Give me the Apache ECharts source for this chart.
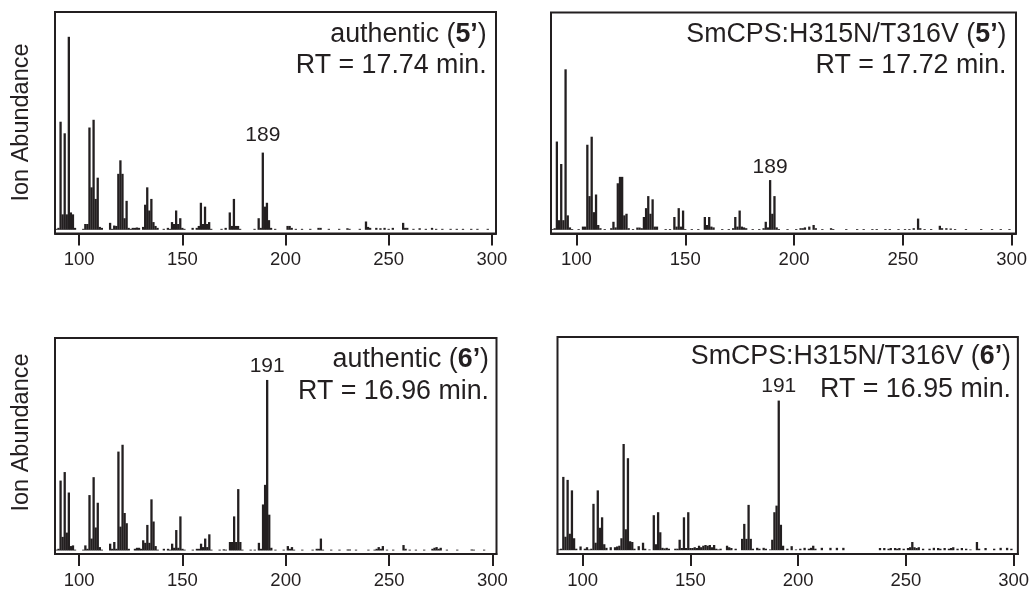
<!DOCTYPE html>
<html><head><meta charset="utf-8">
<script src="https://cdn.jsdelivr.net/npm/echarts@6/dist/echarts.min.js"></script>
<style>html,body{margin:0;padding:0;background:#fff}#c{width:1032px;height:590px}</style>
</head><body><div id="c"></div>
<script>
// ---- data ----
const xTicks = [100, 150, 200, 250, 300];
const sampleNames = ['authentic', 'SmCPS:H315N/T316V', 'authentic', 'SmCPS:H315N/T316V'];
const compoundIds = ['5’', '5’', '6’', '6’'];
const retentionTimes = ['17.74', '17.72', '16.96', '16.95'];
const labeledPeaks = [189, 189, 191, 191];
const yAxisTitle = 'Ion Abundance';

// [m/z, relative abundance (%)]
const spectrumA = [[89,0.5],[90,1],[91,56],[92,8],[93,50],[94,8],[95,100],[96,9],[97,8],[98,1],[102,0.5],[103,3],[104,3],
[105,53],[106,22],[107,57],[108,16],[109,27],[110,1.5],[111,1],[115,3.6],[116,0.5],[117,2.2],[118,2],[119,29],[120,36],[121,29],
[122,6],[123,15],[124,1],[125,0.5],[126,1],[127,1],[128,1.2],[129,1],[131,1.5],[132,13],[133,22],[134,10],[135,16],[136,4],[137,2],
[138,1],[141,0.5],[143,1],[144,0.5],[145,4],[146,3],[147,10],[148,3],[149,6],[150,1],[151,0.5],[155,1],[157,1],[158,2],[159,14],
[160,3],[161,12],[162,3],[163,4],[164,0.5],[169,0.5],[171,1],[173,9],[174,2],[175,16],[176,2],[177,2],[178,0.5],[185,0.5],[187,6],
[188,1],[189,40],[190,12],[191,14],[192,5],[193,1],[195,0.5],[201,2],[202,2],[203,1],[205,0.5],[208,0.5],[212,0.5],[216,1],[217,1],
[221,0.5],[226,0.5],[230,0.8],[231,0.5],[236,0.5],[239,4.3],[240,1.5],[241,1],[244,1],[246,0.8],[248,1],[250,0.5],[252,1],[257,3.6],
[258,1],[259,1],[262,0.5],[265,0.8],[268,0.5],[271,1],[273,0.5],[276,0.5],[280,0.5],[283,0.5],[286,0.5],[290,0.5],[293,0.5],[298,0.5]];

const spectrumB = [[89,0.5],[90,1],[91,55],[92,6],[93,41],[94,6],[95,100],[96,9],[97,1.5],[98,0.5],[101,0.5],[103,2],[104,2],
[105,53],[106,21],[107,58],[108,11],[109,22],[110,3],[111,1],[113,0.5],[116,1],[117,5],[118,1.5],[119,29],[120,33],[121,33],[122,9],
[123,10],[124,1],[126,0.5],[128,1.4],[129,1.4],[130,1],[131,8],[132,13.5],[133,21],[134,10],[135,19],[136,2],[137,2],[141,0.5],
[143,0.5],[145,8],[146,2],[147,13.5],[148,2],[149,12],[150,0.5],[153,0.5],[156,0.5],[159,8],[160,3],[161,8],[162,2],[163,1.5],
[167,0.5],[170,0.5],[172,1],[173,8],[174,2],[175,12],[176,2],[177,1.5],[178,1],[181,0.5],[184,0.5],[186,1],[187,5],[188,1.5],
[189,31],[190,10],[191,21],[192,1.5],[193,0.5],[197,0.5],[201,0.5],[203,1],[204,1],[205,1.5],[207,2],[209,3],[210,1],[213,0.5],
[217,1],[218,0.5],[224,0.5],[229,0.5],[232,0.5],[236,0.5],[238,0.5],[242,0.5],[244,0.5],[248,0.5],[251,0.5],[253,0.5],[255,1],
[257,7],[258,1],[260,0.5],[263,0.5],[267,2.5],[268,1],[270,1],[272,0.8],[274,0.5],[279,0.5],[286,0.5],[291,0.5],[295,0.5],[299,0.5]];

const spectrumC = [[89,0.5],[90,1],[91,41],[92,8],[93,46],[94,10.5],[95,34],[96,2.6],[97,3],[98,0.5],[102,0.5],[103,3],[104,1],
[105,32.5],[106,7],[107,43],[108,13.5],[109,28],[110,2],[111,0.5],[115,4],[116,1],[117,5],[118,1],[119,58],[120,14],[121,62],
[122,22],[123,16],[124,1],[127,1],[128,1.6],[129,1.6],[130,1],[131,6],[132,4.5],[133,15],[134,4.5],[135,30],[136,17],[137,2.6],
[138,0.5],[141,1],[143,1],[144,0.5],[145,4],[146,1.6],[147,12],[148,1.6],[149,20],[150,1],[151,0.5],[155,0.5],[157,1],[158,1],
[159,4],[160,2],[161,7],[162,2],[163,9.5],[164,0.5],[168,0.5],[170,0.7],[171,0.5],[173,5],[174,5],[175,20],[176,5],[177,36],[178,5],
[179,0.5],[183,0.5],[185,0.5],[187,4.5],[188,1],[189,27],[190,38.5],[191,100],[192,21],[193,1.6],[195,0.5],[199,0.5],[201,2.6],
[202,1],[203,2],[204,0.5],[208,0.5],[213,0.5],[215,1],[216,1],[217,7],[218,0.5],[222,0.5],[226,0.5],[230,0.6],[231,0.6],[234,0.5],
[240,0.5],[243,0.5],[244,1],[245,2],[246,1],[247,2.6],[249,0.5],[252,0.5],[257,3.2],[258,1],[260,0.5],[263,0.5],[267,0.5],[271,1],
[272,1.6],[273,2],[274,1],[275,1.6],[278,0.5],[283,0.5],[290,0.6],[291,0.5],[296,0.5]];

const spectrumD = [[89,0.5],[90,1],[91,49],[92,9],[93,47],[94,11],[95,40],[96,8],[97,1],[99,2.5],[101,1],[102,2],[103,0.5],[104,1],
[105,31],[106,5],[107,40],[108,15],[109,22],[110,4],[111,1.6],[113,2],[115,2],[116,2.5],[117,3],[118,8],[119,71],[120,14],[121,61.5],
[122,6],[123,5.5],[124,1],[126,2.7],[128,5],[129,1],[131,0.5],[133,23.4],[134,4],[135,25.4],[136,12],[137,1.6],[138,1.2],[139,1.6],
[140,1],[143,1],[144,1],[145,7],[146,1.5],[147,22],[148,1.5],[149,25.4],[150,1.5],[151,1.5],[152,2],[153,1.5],[154,3],[155,2],
[156,3],[157,3.5],[158,3],[159,3.5],[160,2],[161,3.5],[162,1],[163,0.5],[164,1],[167,3],[168,2],[169,1.5],[171,1],[174,7.6],
[175,17.6],[176,7.6],[177,30.3],[178,7.6],[179,1],[181,1.6],[182,1],[184,1.6],[185,1],[187,0.5],[188,7],[189,25.4],[190,29.8],
[191,100],[192,17],[193,3],[195,1],[197,2.7],[199,0.5],[201,1],[203,1.6],[205,1],[206,1.6],[207,3],[208,1],[211,1.6],[215,1.6],
[218,1.6],[221,1.6],[238,1.5],[240,1.5],[242,1],[243,1.5],[245,1.5],[246,1],[247,1.5],[249,1],[251,1.5],[252,2],[253,5.5],[254,2],
[255,1.5],[256,2],[258,1],[261,1],[263,1.6],[265,1.5],[266,1],[268,1.5],[270,1],[271,1.5],[272,2],[274,1],[276,1.5],[278,1],
[280,0.5],[283,5.5],[284,1],[287,1.5],[291,1],[294,1.6],[297,1.6],[299,1]];

const spectra = [spectrumA, spectrumB, spectrumC, spectrumD];

// ---- layout / style ----
const FONT = "'Liberation Sans', Arial, Helvetica, sans-serif";
const INK = '#231f20';
const panels = [
  {left: 55,    top: 12,   width: 441,   height: 221.5, yMin: -1.92, yMax: 112.85, labelDist: 7, titleRight: 486.7, t1: 35,    t2: 65.7},
  {left: 551,   top: 12.5, width: 465,   height: 221,   yMin: -2.3,  yMax: 135.4,  labelDist: 2, titleRight: 1006.5, t1: 35,   t2: 65.7},
  {left: 55,    top: 338,  width: 441.5, height: 216.5, yMin: -2.05, yMax: 124.6,  labelDist: 3, titleRight: 489,   t1: 360,   t2: 391.7},
  {left: 557.5, top: 337,  width: 461.5, height: 217.5, yMin: -2.53, yMax: 142.5,  labelDist: 4, titleRight: 1011,  t1: 356.7, t2: 390}
];

const grid = [], xAxis = [], yAxis = [], series = [], graphic = [];
panels.forEach((p, i) => {
  grid.push({left: p.left, top: p.top, width: p.width, height: p.height, show: true,
    borderColor: INK, borderWidth: 2, backgroundColor: 'transparent'});
  xAxis.push({type: 'value', gridIndex: i, min: 88.3, max: 302, splitLine: {show: false},
    axisLine: {show: true, onZero: false, lineStyle: {color: INK, width: 2}},
    axisTick: {show: true, customValues: xTicks, length: 12, inside: false, lineStyle: {color: INK, width: 2}},
    axisLabel: {show: true, customValues: xTicks, fontSize: 18.5, margin: 17, color: INK, fontFamily: FONT, hideOverlap: false}});
  yAxis.push({type: 'value', gridIndex: i, min: p.yMin, max: p.yMax, show: false, splitLine: {show: false}});
  const peak = labeledPeaks[i];
  series.push({type: 'bar', xAxisIndex: i, yAxisIndex: i, barWidth: 2.3, silent: true, animation: false,
    itemStyle: {color: INK},
    data: spectra[i].map(([m, v]) => m === peak ? {value: [m, v], label: {show: true, position: 'top', distance: p.labelDist,
      formatter: String(m), fontSize: 21, color: INK, fontFamily: FONT}} : [m, v])});
  graphic.push({type: 'text', x: p.titleRight, y: p.t1, style: {
    text: '{n|' + sampleNames[i] + ' (}{b|' + compoundIds[i] + '}{n|)}', align: 'right', verticalAlign: 'middle',
    rich: {n: {fontSize: 26.8, fontFamily: FONT, fill: INK, color: INK}, b: {fontSize: 26.8, fontFamily: FONT, fontWeight: 'bold', fill: INK, color: INK}}}});
  graphic.push({type: 'text', x: p.titleRight, y: p.t2, style: {
    text: 'RT = ' + retentionTimes[i] + ' min.', align: 'right', verticalAlign: 'middle',
    font: '26.8px ' + FONT, fill: INK}});
});
[122.5, 432.5].forEach(cy => graphic.push({type: 'text', x: 22, y: cy, rotation: Math.PI / 2,
  style: {text: yAxisTitle, align: 'center', verticalAlign: 'middle', font: '23.5px ' + FONT, fill: INK}}));

const chart = echarts.init(document.getElementById('c'), null, {renderer: 'canvas'});
chart.setOption({animation: false, backgroundColor: '#fff', grid, xAxis, yAxis, series, graphic});
</script></body></html>
